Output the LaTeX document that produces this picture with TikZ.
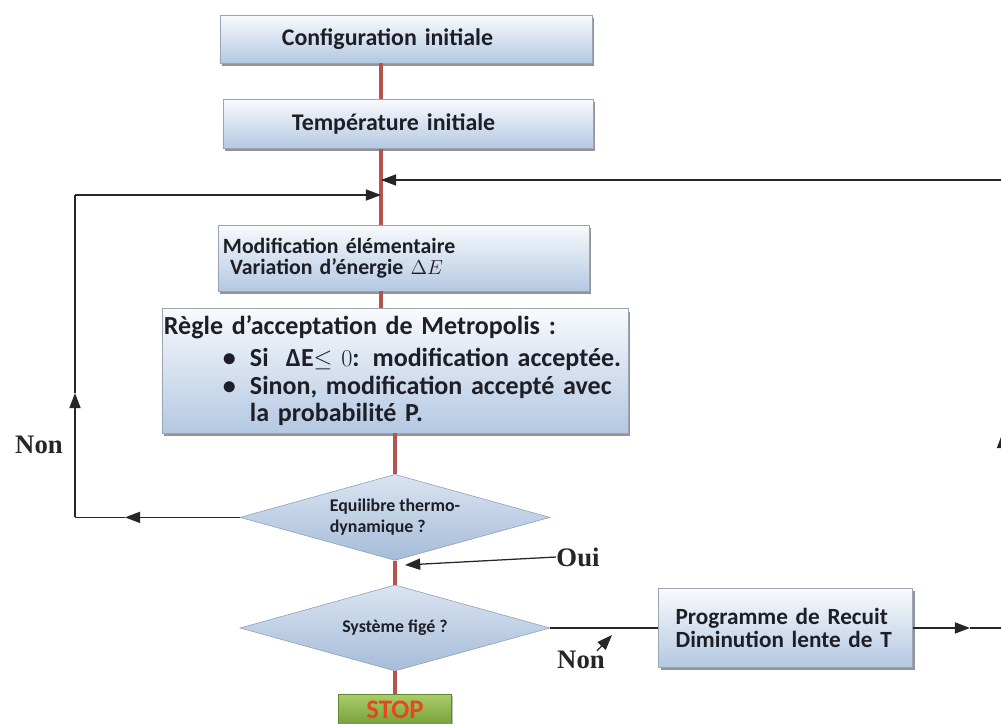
\documentclass[tikz,border=0pt]{standalone}
\usepackage{fontspec}
\setmainfont{Carlito}
\newfontfamily\notefont{Liberation Serif}
\usetikzlibrary{positioning, arrows.meta, shapes.geometric, shadows}
\definecolor{boxTop}{HTML}{F8FAFD}
\definecolor{boxBottom}{HTML}{B4C8E2}
\definecolor{boxEdge}{HTML}{9AA4B2}
\definecolor{decTop}{HTML}{DAE4F1}
\definecolor{decBottom}{HTML}{A6BCD9}
\definecolor{decEdge}{HTML}{8E9FB7}
\definecolor{linkRed}{HTML}{B5534F}
\definecolor{stopTop}{HTML}{AACC6A}
\definecolor{stopBottom}{HTML}{75A039}
\definecolor{stopRed}{HTML}{E5481E}
\definecolor{textDark}{HTML}{1E1F26}

\begin{document}
\begin{tikzpicture}[x=0.025cm, y=-0.025cm,
    stepbox/.style={draw=boxEdge, thin, top color=boxTop, bottom color=boxBottom, text=textDark, align=left, inner ysep=0pt,
      drop shadow={shadow xshift=0.05cm, shadow yshift=-0.07cm, fill=black!60, opacity=0.7}},
    testbox/.style={diamond, aspect=3.6, draw=decEdge, thin, top color=decTop, bottom color=decBottom, text=textDark,
      minimum width=7.75cm, minimum height=2.15cm, inner sep=0pt, font=\bfseries\fontsize{12.7}{14.9}\selectfont},
    redlink/.style={linkRed, line width=2.2pt},
    flow/.style={black!85, line width=0.9pt},
    tip/.style={-{Triangle[length=0.38cm, width=0.28cm]}},
    answer/.style={font=\notefont\bfseries\fontsize{19}{21}\selectfont, text=black!85, inner sep=0pt}]
    \useasboundingbox (0,0) rectangle (1001,724);

    \node[stepbox, minimum width=9.3cm, minimum height=1.2cm, text width=6.2cm, inner xsep=1.55cm,
      font=\bfseries\fontsize{17}{19}\selectfont] (config) at (406,39) {Configuration initiale};
    \node[stepbox, below=0.9cm of config, xshift=0.05cm, minimum width=9.25cm, minimum height=1.225cm,
      text width=5.8cm, inner xsep=1.725cm, font=\bfseries\fontsize{17}{19}\selectfont] (temp) {Température initiale};
    \node[stepbox, below=1.9cm of temp, xshift=-0.1125cm, minimum width=9.275cm, minimum height=1.65cm,
      text width=9.025cm, inner xsep=0.125cm, font=\bfseries\fontsize{15.5}{14.5}\selectfont] (modif)
      {Modification élémentaire\\\hspace*{0.18cm}Variation d’énergie $\Delta E$};
    \node[stepbox, below=0.425cm of modif, xshift=-0.2125cm, minimum width=11.65cm, minimum height=3.1cm,
      text width=11.55cm, inner xsep=0.05cm, font=\bfseries\fontsize{18.5}{17.7}\selectfont] (metro)
      {Règle d’acceptation de Metropolis :\\[5pt]
       \hspace*{1.475cm}\makebox[0.675cm][l]{\textbullet}Si\ \ ΔE$\leq$ $0$: modification acceptée.\\[2pt]
       \hspace*{1.475cm}\makebox[0.675cm][l]{\textbullet}Sinon, modification accepté avec\\[2pt]
       \hspace*{2.15cm}la probabilité P.};
    \node[testbox, below=1.025cm of metro, align=left] (equil) {Equilibre thermo-\\dynamique ?};
    \node[testbox, below=0.6cm of equil] (syst) {Système figé ?};
    \node[below=0.575cm of syst, minimum width=2.825cm, minimum height=0.75cm, inner sep=0pt, draw=stopBottom!85!black, thin,
      top color=stopTop, bottom color=stopBottom, text=stopRed, font=\bfseries\fontsize{19}{21}\selectfont,
      drop shadow={shadow xshift=0.04cm, shadow yshift=-0.04cm, fill=black!50, opacity=0.5}] (stop) {STOP};
    \node[stepbox, right=2.7cm of syst, minimum width=6.35cm, minimum height=1.975cm, text width=5.5cm,
      inner xsep=0.425cm, font=\bfseries\fontsize{16.5}{16.3}\selectfont] (recuit)
      {Programme de Recuit\\Diminution lente de T};

    \node[answer] (nonL) at (39,445) {Non};
    \node[answer] (oui) at (578,557) {Oui};
    \node[answer] (nonR) at (581,660) {Non};

    \coordinate (trunk) at (381,180);
    \coordinate (joinL) at (381,195);
    \coordinate (ltop) at (75,195);
    \coordinate (lup) at (75,393);
    \coordinate (lgo) at (125,515);
    \coordinate (rtop) at (1002.5,180);
    \coordinate (rup) at (1002.5,433);
    \coordinate (rgo) at (970,625);
    \coordinate (ouitip) at (405,565);
    \coordinate (nontip) at (612,635);

    \draw[redlink] (config.south -| trunk) -- (temp.north -| trunk);
    \draw[redlink] (temp.south -| trunk) -- (modif.north -| trunk);
    \draw[redlink] (modif.south -| trunk) -- (metro.north -| trunk);
    \draw[redlink] (metro.south -| equil.north) -- (equil.north);
    \draw[redlink] (equil.south) -- (syst.north);
    \draw[redlink] (syst.south) -- (stop.north);

    \draw[flow, tip] (equil.west) -- (equil.west -| lgo);
    \draw[flow] (equil.west -| lgo) -- (equil.west -| ltop);
    \draw[flow, tip] (equil.west -| ltop) -- (lup);
    \draw[flow] (lup) -- (ltop);
    \draw[flow, tip] (ltop) -- (joinL);

    \draw[flow] (syst.east) -- (recuit.west);
    \draw[flow, tip] (recuit.east) -- (recuit.east -| rgo);
    \draw[flow] (recuit.east -| rgo) -- (recuit.east -| rtop);
    \draw[flow, tip] (recuit.east -| rtop) -- (rup);
    \draw[flow] (rup) -- (rtop);
    \draw[flow, tip] (rtop) -- (trunk);

    \draw[flow, tip] (oui.west) -- (ouitip);
    \draw[flow, tip] ([xshift=0.4cm]nonR.north) -- (nontip);
\end{tikzpicture}
\end{document}
